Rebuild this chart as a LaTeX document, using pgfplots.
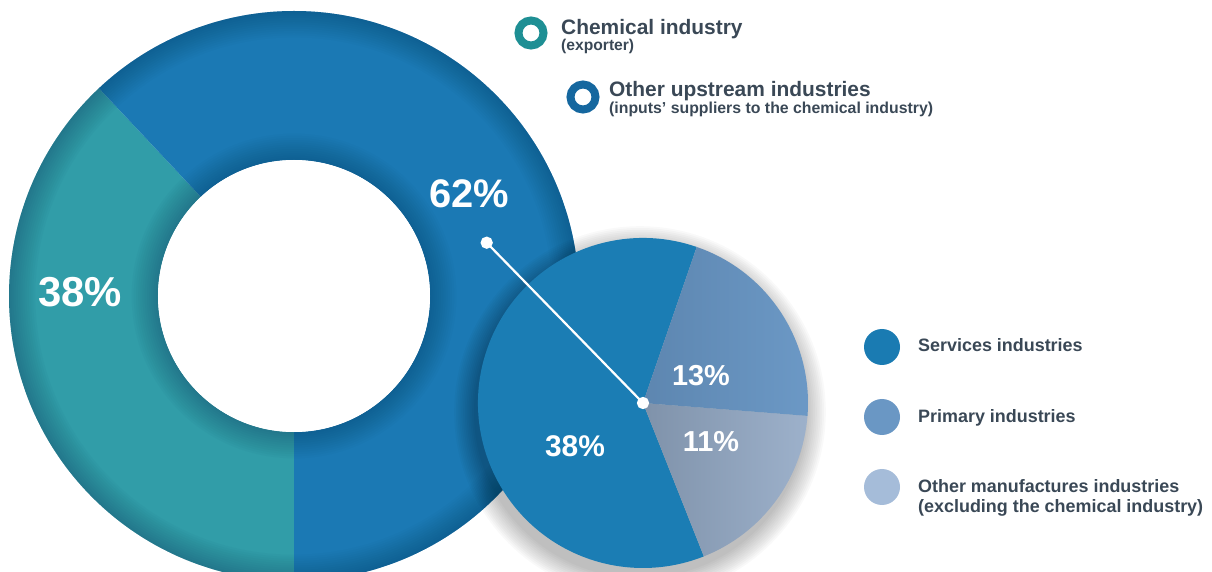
\documentclass[border=0pt]{standalone}
\usepackage{fontspec}
\setmainfont{Liberation Sans}
\usepackage{pgfplots}
\pgfplotsset{compat=1.18}
\usepackage{pgfplotstable}
\usetikzlibrary{calc}

\definecolor{teal1}{HTML}{319DA8}
\definecolor{blue1}{HTML}{1B79B4}
\definecolor{navy}{HTML}{0E3A5E}
\definecolor{serv}{HTML}{1B7DB4}
\definecolor{primL}{HTML}{5D86B0}
\definecolor{primR}{HTML}{6C99C6}
\definecolor{othL}{HTML}{7F92AA}
\definecolor{othR}{HTML}{9DB1CB}
\definecolor{txt}{HTML}{3A4856}
\definecolor{legserv}{HTML}{1A7BB2}
\definecolor{legprim}{HTML}{6A97C4}
\definecolor{legothr}{HTML}{A5BCD9}
\definecolor{ringteal}{HTML}{1E8F94}
\definecolor{ringblue}{HTML}{15679F}

% donut: share of exports value added
\pgfplotstableread{
label share
chemical 38
upstream 62
}\donutdata
% pie: breakdown of the upstream 62%
\pgfplotstableread{
label share
services 38
other 11
primary 13
}\piedata

\pgfplotstablegetelem{0}{share}\of\donutdata \let\dChem\pgfplotsretval
\pgfplotstablegetelem{1}{share}\of\donutdata \let\dUp\pgfplotsretval
\pgfplotstablegetelem{0}{share}\of\piedata \let\pServ\pgfplotsretval
\pgfplotstablegetelem{1}{share}\of\piedata \let\pOth\pgfplotsretval
\pgfplotstablegetelem{2}{share}\of\piedata \let\pPrim\pgfplotsretval

\pgfmathsetmacro\aT{270-3.6*\dChem}
\pgfmathsetmacro\pTot{\pServ+\pOth+\pPrim}
\pgfmathsetmacro\sA{71}
\pgfmathsetmacro\sB{\sA+360*\pServ/\pTot}
\pgfmathsetmacro\sC{\sB+360*\pOth/\pTot}
\pgfmathsetmacro\sD{\sC+360*\pPrim/\pTot}

\begin{document}
\begin{tikzpicture}
\useasboundingbox (0,0) rectangle (1212bp,572bp);
\clip (0,0) rectangle (1212bp,572bp);
\begin{axis}[
  x=1bp, y=1bp,
  xmin=0, xmax=1212, ymin=0, ymax=572,
  hide axis, clip=true,
  at={(0,0)}, anchor=south west,
]
\coordinate (c) at (axis cs:294,276);
\coordinate (p) at (axis cs:643,169);

% donut segments
\fill[teal1] (c) ++(\aT:285bp) arc[start angle=\aT, end angle=270, radius=285bp]
   -- ($(c)+(270:136bp)$) arc[start angle=270, end angle=\aT, radius=136bp] -- cycle;
\fill[blue1] (c) ++(-90:285bp) arc[start angle=-90, end angle=\aT, radius=285bp]
   -- ($(c)+(\aT:136bp)$) arc[start angle=\aT, end angle=-90, radius=136bp] -- cycle;
% soft edge vignette (outer and inner)
\pgfplotsinvokeforeach{1,...,12}{
  \fill[navy, opacity=0.03, even odd rule] (c) circle[radius=285bp] (c) circle[radius=285bp-#1*2.2bp];
  \fill[navy, opacity=0.03, even odd rule] (c) circle[radius=136bp+#1*2.2bp] (c) circle[radius=136bp];
}
\fill[white] (c) circle[radius=136bp];

% pie shadow
\pgfplotsinvokeforeach{0,...,11}{
  \fill[black, opacity=0.022] ($(p)+(-3bp,-9bp)$) circle[radius=166bp+#1*1.8bp];
}

% pie slices
\fill[serv] (p) -- ++(\sA:165bp) arc[start angle=\sA, end angle=\sB, radius=165bp] -- cycle;
\shade[left color=othL, right color=othR] (p) -- ++(\sB:165bp) arc[start angle=\sB, end angle=\sC, radius=165bp] -- cycle;
\shade[left color=primL, right color=primR] (p) -- ++(\sC:165bp) arc[start angle=\sC, end angle=\sD, radius=165bp] -- cycle;

% leader line
\addplot[white, line width=2.2bp, mark=*, mark size=5bp, mark options={white, fill=white}]
  coordinates {(643,169) (486.7,329.3)};

% percentage labels
\node[white, font=\bfseries\fontsize{40}{40}\selectfont] at (axis cs:469,378) {62\%};
\node[white, font=\bfseries\fontsize{42}{42}\selectfont] at (axis cs:80,280) {38\%};
\node[white, font=\bfseries\fontsize{29}{29}\selectfont] at (axis cs:701,196) {13\%};
\node[white, font=\bfseries\fontsize{29}{29}\selectfont] at (axis cs:711,130) {11\%};
\node[white, font=\bfseries\fontsize{30}{30}\selectfont] at (axis cs:575,126) {38\%};

% top legend
\draw[ringteal, line width=8bp] (axis cs:531,539) circle[radius=12.5bp];
\draw[ringblue, line width=8bp] (axis cs:583,475) circle[radius=12.5bp];
\node[anchor=base west, inner sep=0, txt, font=\bfseries\fontsize{21}{21}\selectfont] at (axis cs:561,537) {Chemical industry};
\node[anchor=base west, inner sep=0, txt, font=\bfseries\fontsize{15.7}{15.7}\selectfont] at (axis cs:561,521) {(exporter)};
\node[anchor=base west, inner sep=0, txt, font=\bfseries\fontsize{21}{21}\selectfont] at (axis cs:609,475) {Other upstream industries};
\node[anchor=base west, inner sep=0, txt, font=\bfseries\fontsize{15.9}{15.9}\selectfont] at (axis cs:609,458) {(inputs’ suppliers to the chemical industry)};

% right legend
\fill[legserv] (axis cs:882,225) circle[radius=18bp];
\fill[legprim] (axis cs:882,155) circle[radius=18bp];
\fill[legothr] (axis cs:882,85) circle[radius=18bp];
\node[anchor=base west, inner sep=0, txt, font=\bfseries\fontsize{18}{18}\selectfont] at (axis cs:918,221) {Services industries};
\node[anchor=base west, inner sep=0, txt, font=\bfseries\fontsize{18}{18}\selectfont] at (axis cs:918,150) {Primary industries};
\node[anchor=base west, inner sep=0, txt, font=\bfseries\fontsize{18}{18}\selectfont] at (axis cs:918,80) {Other manufactures industries};
\node[anchor=base west, inner sep=0, txt, font=\bfseries\fontsize{18}{18}\selectfont] at (axis cs:918,60) {(excluding the chemical industry)};
\end{axis}
\end{tikzpicture}
\end{document}
